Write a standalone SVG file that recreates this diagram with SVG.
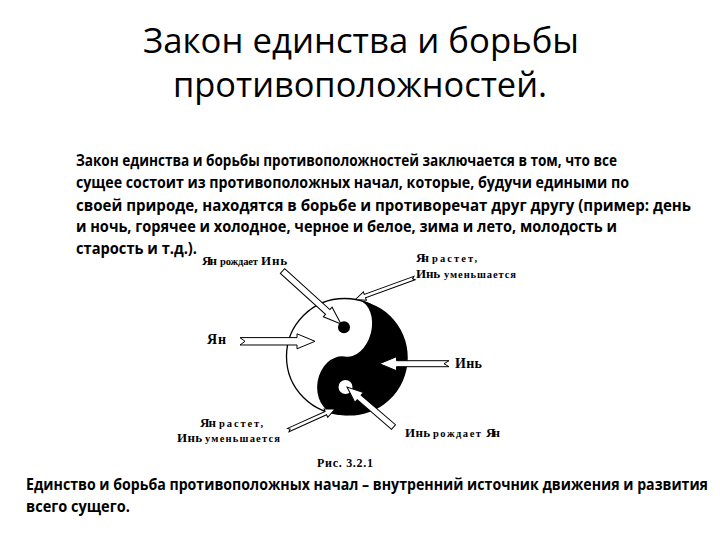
<svg xmlns="http://www.w3.org/2000/svg" width="720" height="540" viewBox="0 0 720 540">
<style>
.title{font-family:"Open Sans","Noto Sans",sans-serif;font-size:35px;fill:#000}
.body{font-family:"Open Sans","Noto Sans",sans-serif;font-size:15.5px;font-weight:bold;fill:#000}
.foot{font-family:"Open Sans","Noto Sans",sans-serif;font-size:16px;font-weight:bold;fill:#000}
.big{font-family:"Liberation Serif","DejaVu Serif",serif;font-size:13px;font-weight:bold;fill:#000}
.sm{font-family:"Liberation Serif","DejaVu Serif",serif;font-size:10.5px;font-weight:bold;fill:#000}
.arrow{fill:#fff;stroke:#000;stroke-width:1;stroke-linejoin:miter}
</style>
<rect x="0" y="0" width="720" height="540" fill="#fff"/>
<g id="title">
<text class="title" x="143" y="53" textLength="436" lengthAdjust="spacingAndGlyphs">Закон единства и борьбы</text>
<text class="title" x="173" y="97" textLength="374" lengthAdjust="spacingAndGlyphs">противоположностей.</text>
</g>
<g id="description">
<text class="body" x="76" y="166" textLength="541" lengthAdjust="spacingAndGlyphs">Закон единства и борьбы противоположностей заключается в том, что все</text>
<text class="body" x="76" y="188" textLength="553" lengthAdjust="spacingAndGlyphs">сущее состоит из противоположных начал, которые, будучи едиными по</text>
<text class="body" x="76" y="210.5" textLength="615" lengthAdjust="spacingAndGlyphs">своей природе, находятся в борьбе и противоречат друг другу (пример: день</text>
<text class="body" x="76" y="232" textLength="541" lengthAdjust="spacingAndGlyphs">и ночь, горячее и холодное, черное и белое, зима и лето, молодость и</text>
<text class="body" x="76" y="253.5" textLength="121" lengthAdjust="spacingAndGlyphs">старость и т.д.).</text>
</g>
<g id="yin-yang">
<circle cx="344.5" cy="356.5" r="58" fill="#fff" stroke="#000" stroke-width="1.3"/>
<path d="M 359,300.35 A 58 58 0 1 1 335,413.7 A 29 23 -80.6 0 1 344.5,356.5 A 29 20 -75.5 0 0 359,300.35 Z" fill="#000"/>
<circle cx="344" cy="327.3" r="6" fill="#000"/>
<circle cx="345.5" cy="387" r="7" fill="#fff"/>
</g>
<g id="connectors">
<polygon class="arrow" transform="translate(282.5,271) rotate(42.2)" points="0,-3.2 61,-3.2 61,-6.5 79,0 61,6.5 61,3.2 0,3.2"/>
<polygon class="arrow" transform="translate(240,341.3)" points="0,-3.7 57,-3.7 57,-7.5 75,0 57,7.5 57,3.7 0,3.7 5,0"/>
<polygon class="arrow" transform="translate(449,363.7) rotate(180)" points="0,-3 52.5,-3 52.5,-7 69.5,0 52.5,7 52.5,3 0,3 5,0"/>
<polygon class="arrow" transform="translate(414.5,278) rotate(160)" points="0,-1.8 52.8,-1.8 52.8,-4.5 62.8,0 52.8,4.5 52.8,1.8 0,1.8 2,0"/>
<polygon class="arrow" transform="translate(288.3,430) rotate(-24.2)" points="0,-1.8 41.2,-1.8 41.2,-4.5 51.2,0 41.2,4.5 41.2,1.8 0,1.8 2,0"/>
<polygon class="arrow" transform="translate(393.5,427) rotate(220.7)" points="0,-3 45.3,-3 45.3,-6.5 61.3,0 45.3,6.5 45.3,3 0,3"/>
</g>
<g id="label-yang-births-yin">
<text class="big" x="202" y="265" textLength="15">Ян</text>
<text class="sm" x="220" y="265" textLength="38">рождает</text>
<text class="big" x="261" y="265" textLength="26">Инь</text>
</g>
<g id="label-yang-grows-top">
<text class="big" x="416" y="262" textLength="13">Ян</text>
<text class="sm" x="432" y="262" textLength="45">растет,</text>
<text class="big" x="416" y="278" textLength="24">Инь</text>
<text class="sm" x="444" y="278" textLength="72">уменьшается</text>
</g>
<g id="label-yang">
<text class="big" x="207" y="344" textLength="19" style="font-size:14px">Ян</text>
</g>
<g id="label-yin">
<text class="big" x="455" y="368" textLength="27" style="font-size:14px">Инь</text>
</g>
<g id="label-yang-grows-bottom">
<text class="big" x="200" y="427" textLength="16">Ян</text>
<text class="sm" x="219" y="427" textLength="44">растет,</text>
<text class="big" x="177" y="442" textLength="25">Инь</text>
<text class="sm" x="205" y="442" textLength="75">уменьшается</text>
</g>
<g id="label-yin-births-yang">
<text class="big" x="405" y="437" textLength="25">Инь</text>
<text class="sm" x="433" y="437" textLength="48">рождает</text>
<text class="big" x="486" y="437" textLength="14">Ян</text>
</g>
<g id="caption">
<text class="big" x="317" y="467" textLength="56" style="font-size:12px">Рис. 3.2.1</text>
</g>
<g id="conclusion" transform="scale(0.88,1)">
<text class="foot" x="29.55" y="490" textLength="775" lengthAdjust="spacingAndGlyphs">Единство и борьба противоположных начал – внутренний источник движения и развития</text>
<text class="foot" x="29.55" y="512" textLength="118" lengthAdjust="spacingAndGlyphs">всего сущего.</text>
</g>
</svg>
